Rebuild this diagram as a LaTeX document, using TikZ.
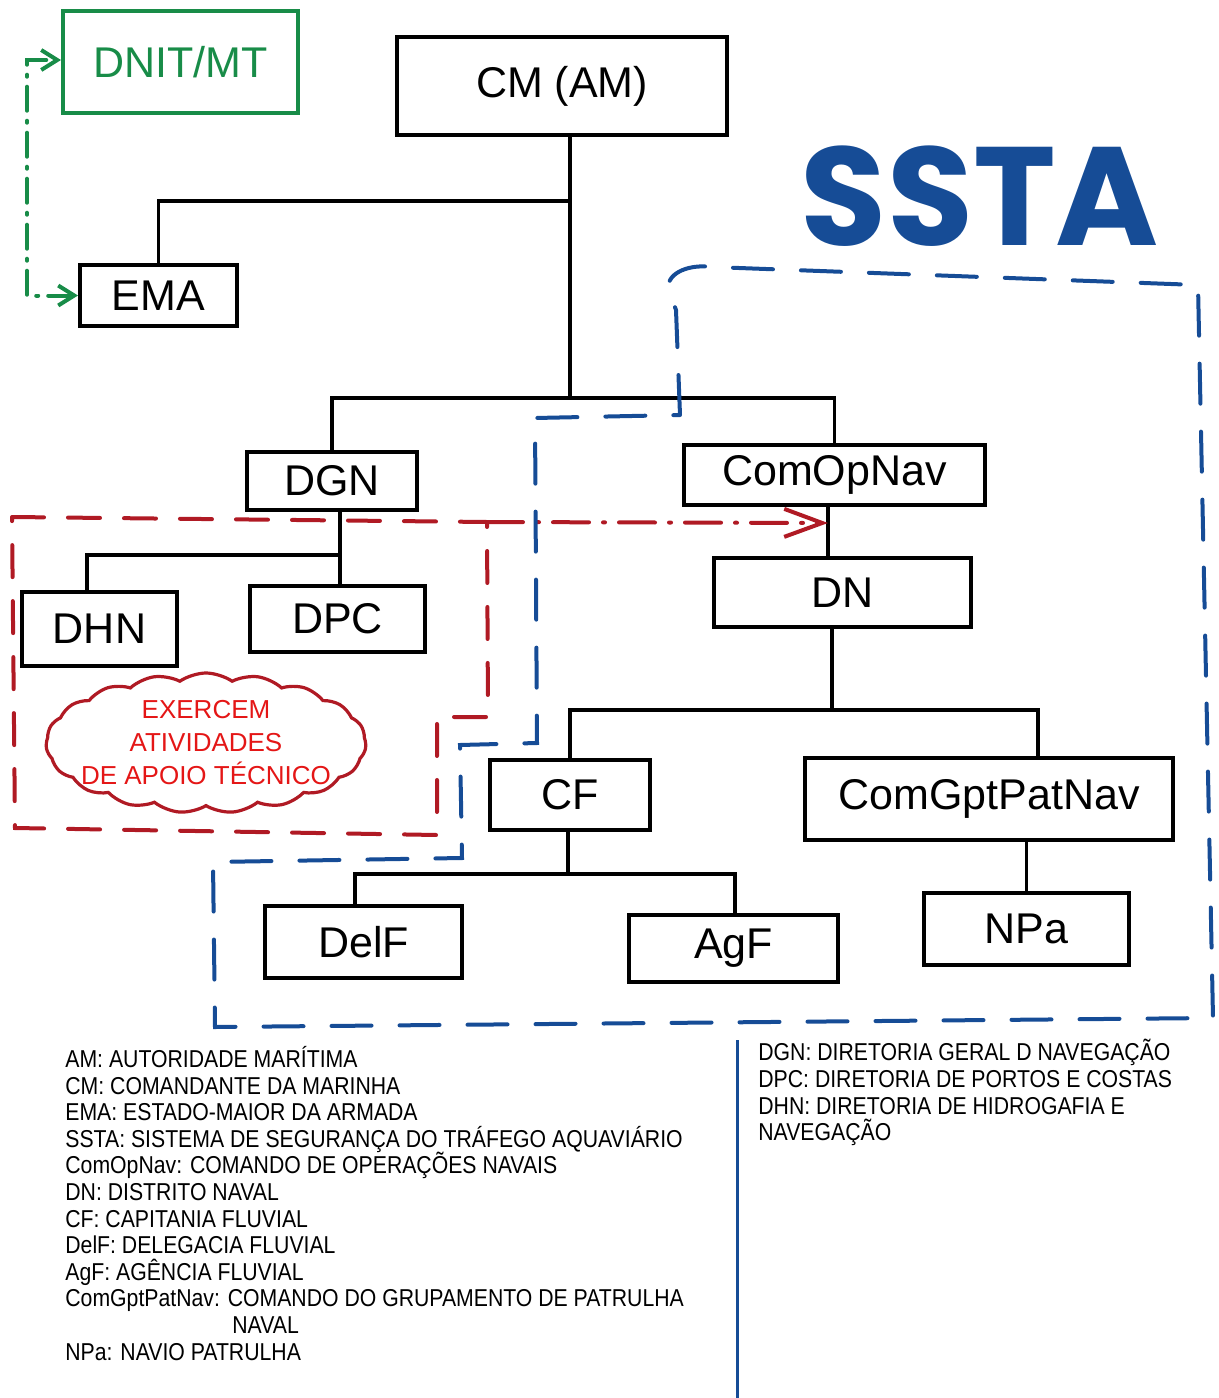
\documentclass[tikz,border=0pt]{standalone}
\usepackage{fontspec}
\setmainfont{Liberation Sans}
\newfontfamily\legendafont{Liberation Sans}[FakeStretch=0.87]
\newfontfamily\sstafont{Poppins}
\usepackage{tikz}
\usetikzlibrary{arrows.meta,shapes.symbols}
\definecolor{verdednit}{RGB}{24,140,72}
\definecolor{azulssta}{RGB}{22,76,150}
\definecolor{vermapoio}{RGB}{176,26,36}
\definecolor{textonuvem}{RGB}{228,22,22}

\begin{document}
\begin{tikzpicture}[x=0.5pt, y=-0.5pt,
	caixa/.style={draw, line width=2pt, inner sep=0pt, font=\fontsize{21.5}{24}\selectfont},
	liga/.style={line width=1.8pt},
	tracoazul/.style={draw=azulssta, line width=2pt, line cap=round, dash pattern=on 20pt off 14pt},
	tracovermelho/.style={draw=vermapoio, line width=2pt, line cap=round, dash pattern=on 16pt off 12pt},
	setavermelha/.style={draw=vermapoio, line width=2pt, line cap=round,
		dash pattern=on 18pt off 7pt on 1pt off 7pt, -{Straight Barb[length=19pt,width=14pt]}},
	setaverde/.style={draw=verdednit, line width=2pt, line cap=round,
		dash pattern=on 12pt off 5pt on 1pt off 5pt,
		{Straight Barb[length=8pt,width=10pt]}-{Straight Barb[length=8pt,width=10pt]}},
	legenda/.style={inner sep=0pt, align=left, font=\legendafont\fontsize{12.2}{13.3}\selectfont}]
	\useasboundingbox (0,0) rectangle (1219,1398);

	\node[caixa, draw=verdednit, text=verdednit, minimum width=117.5pt, minimum height=51pt] (dnit) at (180.5,62) {DNIT/MT};
	\node[caixa, minimum width=165pt, minimum height=49pt] (cm) at (562,86) {CM (AM)};
	\node[caixa, minimum width=78.5pt, minimum height=30.5pt] (ema) at (158.5,295.5) {EMA};
	\node[caixa, minimum width=85pt, minimum height=29pt] (dgn) at (332,481) {DGN};
	\node[caixa, minimum width=150.5pt, minimum height=30pt] (comop) at (834.5,475) {ComOpNav};
	\node[caixa, minimum width=77.5pt, minimum height=37pt] (dhn) at (99.5,629) {DHN};
	\node[caixa, minimum width=87.5pt, minimum height=33pt] (dpc) at (337.5,619) {DPC};
	\node[caixa, minimum width=128.5pt, minimum height=34.5pt] (dn) at (842.5,592.5) {DN};
	\node[caixa, minimum width=80pt, minimum height=35pt] (cf) at (570,795) {CF};
	\node[caixa, minimum width=184pt, minimum height=41pt] (cgpn) at (989,799) {ComGptPatNav};
	\node[caixa, minimum width=98.5pt, minimum height=36pt] (delf) at (363.5,942) {DelF};
	\node[caixa, minimum width=104.5pt, minimum height=33.5pt] (agf) at (733.5,948.5) {AgF};
	\node[caixa, minimum width=102.5pt, minimum height=36pt] (npa) at (1026.5,929) {NPa};

	\coordinate (j1) at (570,201);
	\coordinate (j2) at (570,398);
	\coordinate (j3) at (340,555);
	\coordinate (j4) at (828,523);
	\coordinate (j5) at (832,710);
	\coordinate (j6) at (1038,710);
	\coordinate (j7) at (568,874);
	\coordinate (j8) at (355,874);
	\coordinate (j9) at (735,874);

	\draw[liga] (cm.south -| j1) -- (j2);
	\draw[liga] (j1) -| (ema.north);
	\draw[liga] (dgn.north) |- (j2) -| (comop.north);
	\draw[liga] (dgn.south -| j3) -- (dpc.north -| j3);
	\draw[liga] (j3) -| ([xshift=-6.25pt]dhn.north);
	\draw[liga] (comop.south -| j4) -- (dn.north -| j4);
	\draw[liga] (dn.south -| j5) -- (j5);
	\draw[liga] (cf.north) |- (j6) -- (j6 |- cgpn.north);
	\draw[liga] (cf.south -| j7) -- (j7);
	\draw[liga] (j8 |- delf.north) -- (j8) -- (j9) -- (j9 |- agf.north);
	\draw[liga] (cgpn.south -| npa) -- (npa.north);

	\coordinate (gx) at (27,60);
	\draw[setaverde] (ema.west) -| (gx) -- (dnit.west |- gx);

	\coordinate (rcanto) at (487,522);
	\draw[tracovermelho] (12,517) -- (rcanto) -- (488,717) -- (437,717) -- (437,835) -- (15,828) -- cycle;
	\draw[setavermelha] (rcanto) -- (j4);

	\draw[tracoazul] (680,415) -- (676,310) -- (668,288) .. controls (668,272) and (690,264) .. (712,267)
		-- (1198,285) -- (1213,1018) -- (215,1027) -- (213,862) -- (462,858) -- (460,745)
		-- (537,743) -- (535,418) -- cycle;

	\node[text=azulssta, font=\sstafont\bfseries\fontsize{70}{70}\selectfont] (ssta) at (980,196) {SSTA};

	\node[cloud, cloud puffs=19, cloud puff arc=70, cloud ignores aspect, draw=vermapoio, line width=1.6pt,
		minimum width=160pt, minimum height=70pt, inner sep=0pt] (nuvem) at (206,743) {};
	\node[align=center, text=textonuvem, inner sep=0pt, font=\fontsize{13}{16.5}\selectfont] (apoio) at (nuvem.center)
		{EXERCEM\\ATIVIDADES\\DE APOIO TÉCNICO};

	\node[legenda, anchor=north west] (legsiglas) at (65,1046) {AM: AUTORIDADE MARÍTIMA\\
		CM: COMANDANTE DA MARINHA\\
		EMA: ESTADO-MAIOR DA ARMADA\\
		SSTA: SISTEMA DE SEGURANÇA DO TRÁFEGO AQUAVIÁRIO\\
		ComOpNav: COMANDO DE OPERAÇÕES NAVAIS\\
		DN: DISTRITO NAVAL\\
		CF: CAPITANIA FLUVIAL\\
		DelF: DELEGACIA FLUVIAL\\
		AgF: AGÊNCIA FLUVIAL\\
		ComGptPatNav: COMANDO DO GRUPAMENTO DE PATRULHA\\
		\hspace*{83.5pt}NAVAL\\
		NPa: NAVIO PATRULHA};
	\node[legenda, anchor=north west] (legdiretorias) at (758,1039) {DGN: DIRETORIA GERAL D NAVEGAÇÃO\\
		DPC: DIRETORIA DE PORTOS E COSTAS\\
		DHN: DIRETORIA DE HIDROGAFIA E\\
		NAVEGAÇÃO};
	\coordinate (sepcima) at (737,1040);
	\coordinate (sepbaixo) at (737,1398);
	\draw[azulssta, line width=1.5pt] (sepcima) -- (sepbaixo);
\end{tikzpicture}
\end{document}
